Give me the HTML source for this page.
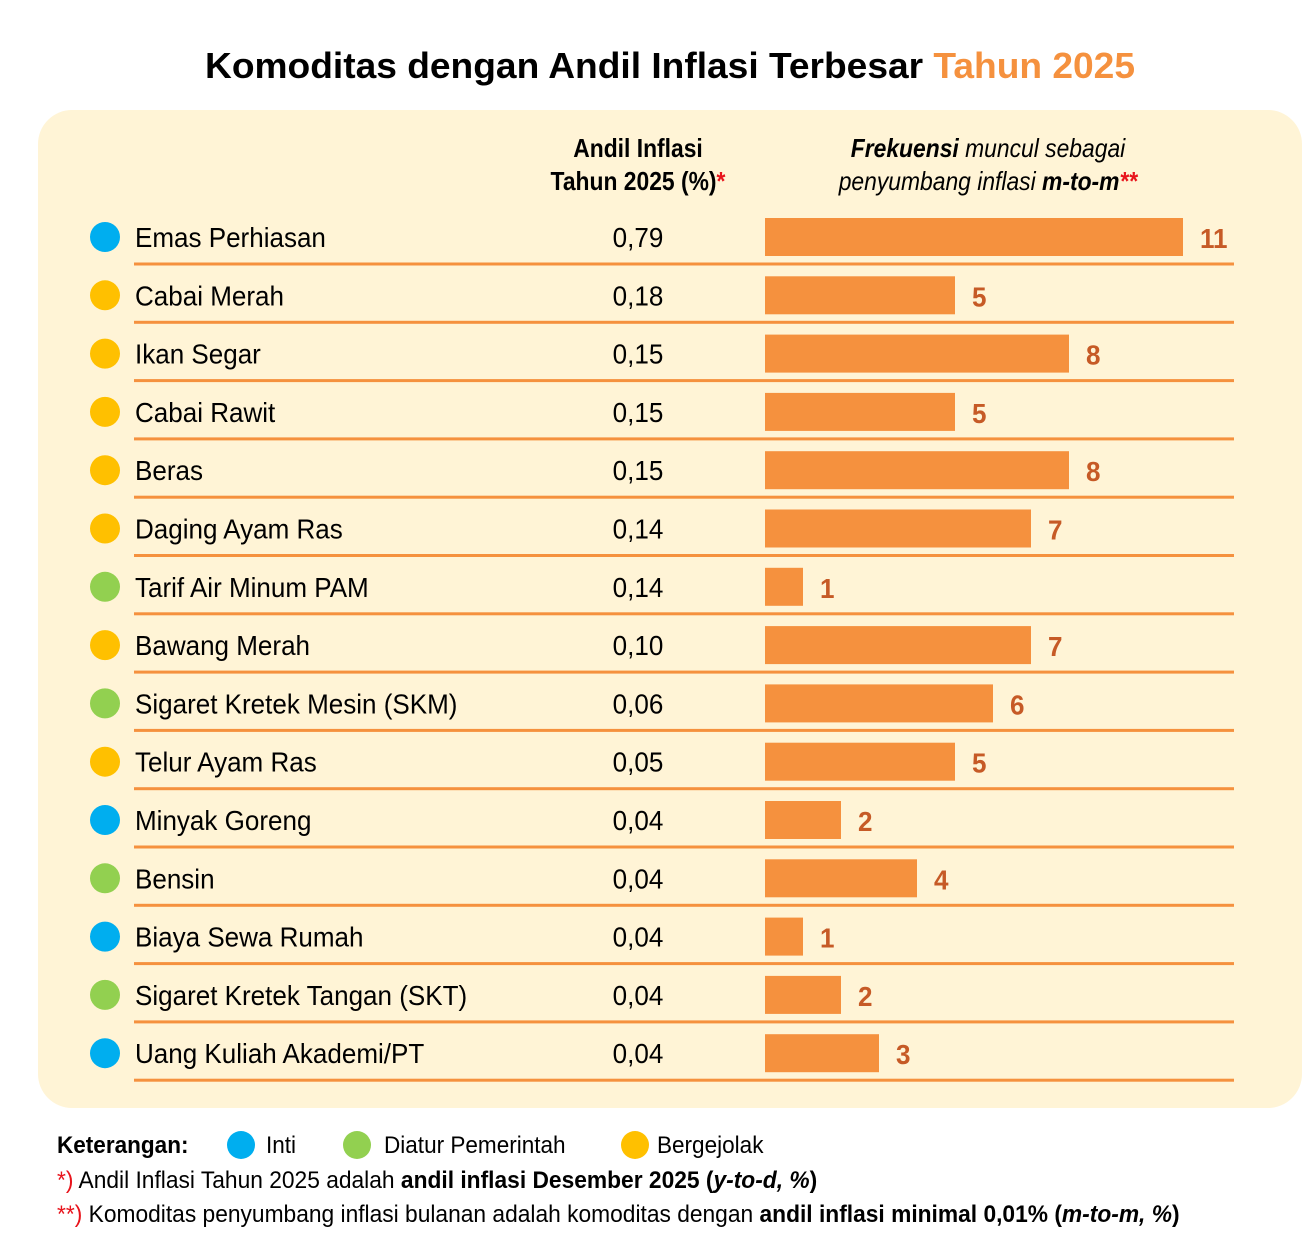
<!DOCTYPE html>
<html><head><meta charset="utf-8"><style>
html,body{margin:0;padding:0;background:#fff}
svg{display:block}
text{font-family:"Liberation Sans",Arial,sans-serif}
</style></head><body>
<svg width="1303" height="1259" viewBox="0 0 1303 1259" xmlns="http://www.w3.org/2000/svg">
<rect x="38" y="110" width="1264" height="998" rx="34" fill="#FFF4D6"/>
<text x="670" y="78" text-anchor="middle" font-size="36" font-weight="bold" textLength="930" lengthAdjust="spacingAndGlyphs"><tspan fill="#000">Komoditas dengan Andil Inflasi Terbesar </tspan><tspan fill="#F5913E">Tahun 2025</tspan></text>

<g font-weight="bold" font-size="26" fill="#000">
<text transform="translate(638,157) scale(0.88,1)" text-anchor="middle">Andil Inflasi</text>
<text transform="translate(638,190) scale(0.88,1)" text-anchor="middle">Tahun 2025 (%)<tspan fill="#E8141C">*</tspan></text>
</g>
<g font-size="26" font-style="italic" fill="#000">
<text transform="translate(988,157) scale(0.88,1)" text-anchor="middle"><tspan font-weight="bold">Frekuensi</tspan> muncul sebagai</text>
<text transform="translate(988,190) scale(0.88,1)" text-anchor="middle">penyumbang inflasi <tspan font-weight="bold">m-to-m</tspan><tspan fill="#E8141C" font-weight="bold">**</tspan></text>
</g>

<g font-size="24.5" fill="#000">
<text transform="translate(57,1153) scale(0.92,1)" font-weight="bold">Keterangan:</text>
<circle cx="241" cy="1145" r="14" fill="#00AEEF"/>
<text transform="translate(266,1153) scale(0.92,1)">Inti</text>
<circle cx="357" cy="1145" r="14" fill="#92D050"/>
<text transform="translate(384,1153) scale(0.92,1)">Diatur Pemerintah</text>
<circle cx="635" cy="1145" r="14" fill="#FFC000"/>
<text transform="translate(657,1153) scale(0.92,1)">Bergejolak</text>
<text transform="translate(57,1188) scale(0.93,1)"><tspan fill="#E8141C">*)</tspan> Andil Inflasi Tahun 2025 adalah <tspan font-weight="bold">andil inflasi Desember 2025 (<tspan font-style="italic">y-to-d, %</tspan>)</tspan></text>
<text transform="translate(57,1222) scale(0.93,1)"><tspan fill="#E8141C">**)</tspan> Komoditas penyumbang inflasi bulanan adalah komoditas dengan <tspan font-weight="bold">andil inflasi minimal 0,01% (<tspan font-style="italic">m-to-m, %</tspan>)</tspan></text>
</g>

<g font-size="28" fill="#000">
<circle cx="105" cy="237" r="15" fill="#00AEEF"/><text transform="translate(135,247) scale(0.93,1)">Emas Perhiasan</text><text transform="translate(638,247) scale(0.93,1)" text-anchor="middle">0,79</text><rect x="765" y="218" width="418" height="38" fill="#F5913E"/><text transform="translate(1200,248) scale(0.93,1)" font-weight="bold" fill="#C65A26">11</text><rect x="134" y="262.5" width="1100" height="3" fill="#F5913E"/>
<circle cx="105" cy="295.3" r="15" fill="#FFC000"/><text transform="translate(135,305.3) scale(0.93,1)">Cabai Merah</text><text transform="translate(638,305.3) scale(0.93,1)" text-anchor="middle">0,18</text><rect x="765" y="276.3" width="190" height="38" fill="#F5913E"/><text transform="translate(972,306.3) scale(0.93,1)" font-weight="bold" fill="#C65A26">5</text><rect x="134" y="320.8" width="1100" height="3" fill="#F5913E"/>
<circle cx="105" cy="353.6" r="15" fill="#FFC000"/><text transform="translate(135,363.6) scale(0.93,1)">Ikan Segar</text><text transform="translate(638,363.6) scale(0.93,1)" text-anchor="middle">0,15</text><rect x="765" y="334.6" width="304" height="38" fill="#F5913E"/><text transform="translate(1086,364.6) scale(0.93,1)" font-weight="bold" fill="#C65A26">8</text><rect x="134" y="379.1" width="1100" height="3" fill="#F5913E"/>
<circle cx="105" cy="411.9" r="15" fill="#FFC000"/><text transform="translate(135,421.9) scale(0.93,1)">Cabai Rawit</text><text transform="translate(638,421.9) scale(0.93,1)" text-anchor="middle">0,15</text><rect x="765" y="392.9" width="190" height="38" fill="#F5913E"/><text transform="translate(972,422.9) scale(0.93,1)" font-weight="bold" fill="#C65A26">5</text><rect x="134" y="437.4" width="1100" height="3" fill="#F5913E"/>
<circle cx="105" cy="470.2" r="15" fill="#FFC000"/><text transform="translate(135,480.2) scale(0.93,1)">Beras</text><text transform="translate(638,480.2) scale(0.93,1)" text-anchor="middle">0,15</text><rect x="765" y="451.2" width="304" height="38" fill="#F5913E"/><text transform="translate(1086,481.2) scale(0.93,1)" font-weight="bold" fill="#C65A26">8</text><rect x="134" y="495.7" width="1100" height="3" fill="#F5913E"/>
<circle cx="105" cy="528.5" r="15" fill="#FFC000"/><text transform="translate(135,538.5) scale(0.93,1)">Daging Ayam Ras</text><text transform="translate(638,538.5) scale(0.93,1)" text-anchor="middle">0,14</text><rect x="765" y="509.5" width="266" height="38" fill="#F5913E"/><text transform="translate(1048,539.5) scale(0.93,1)" font-weight="bold" fill="#C65A26">7</text><rect x="134" y="554" width="1100" height="3" fill="#F5913E"/>
<circle cx="105" cy="586.8" r="15" fill="#92D050"/><text transform="translate(135,596.8) scale(0.93,1)">Tarif Air Minum PAM</text><text transform="translate(638,596.8) scale(0.93,1)" text-anchor="middle">0,14</text><rect x="765" y="567.8" width="38" height="38" fill="#F5913E"/><text transform="translate(820,597.8) scale(0.93,1)" font-weight="bold" fill="#C65A26">1</text><rect x="134" y="612.3" width="1100" height="3" fill="#F5913E"/>
<circle cx="105" cy="645.1" r="15" fill="#FFC000"/><text transform="translate(135,655.1) scale(0.93,1)">Bawang Merah</text><text transform="translate(638,655.1) scale(0.93,1)" text-anchor="middle">0,10</text><rect x="765" y="626.1" width="266" height="38" fill="#F5913E"/><text transform="translate(1048,656.1) scale(0.93,1)" font-weight="bold" fill="#C65A26">7</text><rect x="134" y="670.6" width="1100" height="3" fill="#F5913E"/>
<circle cx="105" cy="703.4" r="15" fill="#92D050"/><text transform="translate(135,713.4) scale(0.93,1)">Sigaret Kretek Mesin (SKM)</text><text transform="translate(638,713.4) scale(0.93,1)" text-anchor="middle">0,06</text><rect x="765" y="684.4" width="228" height="38" fill="#F5913E"/><text transform="translate(1010,714.4) scale(0.93,1)" font-weight="bold" fill="#C65A26">6</text><rect x="134" y="728.9" width="1100" height="3" fill="#F5913E"/>
<circle cx="105" cy="761.7" r="15" fill="#FFC000"/><text transform="translate(135,771.7) scale(0.93,1)">Telur Ayam Ras</text><text transform="translate(638,771.7) scale(0.93,1)" text-anchor="middle">0,05</text><rect x="765" y="742.7" width="190" height="38" fill="#F5913E"/><text transform="translate(972,772.7) scale(0.93,1)" font-weight="bold" fill="#C65A26">5</text><rect x="134" y="787.2" width="1100" height="3" fill="#F5913E"/>
<circle cx="105" cy="820" r="15" fill="#00AEEF"/><text transform="translate(135,830) scale(0.93,1)">Minyak Goreng</text><text transform="translate(638,830) scale(0.93,1)" text-anchor="middle">0,04</text><rect x="765" y="801" width="76" height="38" fill="#F5913E"/><text transform="translate(858,831) scale(0.93,1)" font-weight="bold" fill="#C65A26">2</text><rect x="134" y="845.5" width="1100" height="3" fill="#F5913E"/>
<circle cx="105" cy="878.3" r="15" fill="#92D050"/><text transform="translate(135,888.3) scale(0.93,1)">Bensin</text><text transform="translate(638,888.3) scale(0.93,1)" text-anchor="middle">0,04</text><rect x="765" y="859.3" width="152" height="38" fill="#F5913E"/><text transform="translate(934,889.3) scale(0.93,1)" font-weight="bold" fill="#C65A26">4</text><rect x="134" y="903.8" width="1100" height="3" fill="#F5913E"/>
<circle cx="105" cy="936.6" r="15" fill="#00AEEF"/><text transform="translate(135,946.6) scale(0.93,1)">Biaya Sewa Rumah</text><text transform="translate(638,946.6) scale(0.93,1)" text-anchor="middle">0,04</text><rect x="765" y="917.6" width="38" height="38" fill="#F5913E"/><text transform="translate(820,947.6) scale(0.93,1)" font-weight="bold" fill="#C65A26">1</text><rect x="134" y="962.1" width="1100" height="3" fill="#F5913E"/>
<circle cx="105" cy="994.9" r="15" fill="#92D050"/><text transform="translate(135,1004.9) scale(0.93,1)">Sigaret Kretek Tangan (SKT)</text><text transform="translate(638,1004.9) scale(0.93,1)" text-anchor="middle">0,04</text><rect x="765" y="975.9" width="76" height="38" fill="#F5913E"/><text transform="translate(858,1005.9) scale(0.93,1)" font-weight="bold" fill="#C65A26">2</text><rect x="134" y="1020.4" width="1100" height="3" fill="#F5913E"/>
<circle cx="105" cy="1053.2" r="15" fill="#00AEEF"/><text transform="translate(135,1063.2) scale(0.93,1)">Uang Kuliah Akademi/PT</text><text transform="translate(638,1063.2) scale(0.93,1)" text-anchor="middle">0,04</text><rect x="765" y="1034.2" width="114" height="38" fill="#F5913E"/><text transform="translate(896,1064.2) scale(0.93,1)" font-weight="bold" fill="#C65A26">3</text><rect x="134" y="1078.7" width="1100" height="3" fill="#F5913E"/>
</g>
</svg>
</body></html>
